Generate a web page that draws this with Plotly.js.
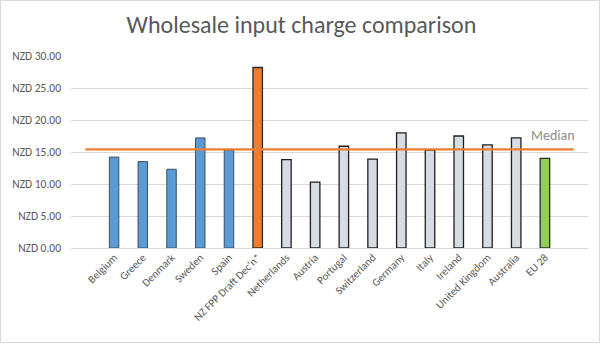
<!DOCTYPE html>
<html>
<head>
<meta charset="utf-8">
<script src="https://cdn.plot.ly/plotly-3.0.1.min.js"></script>
<style>
  html, body { margin: 0; padding: 0; background: #fff; }
  #chart { width: 603px; height: 345px; position: relative; }
  #frame { position: absolute; left: 0; top: 0; width: 598px; height: 341px; border: 1px solid #D9D9D9; pointer-events: none; }
</style>
</head>
<body>
<div id="chart"><div id="frame"></div></div>
<script>
// ---- data ----
const countries = ["Belgium", "Greece", "Denmark", "Sweden", "Spain", "NZ FPP Draft Dec'n*",
  "Netherlands", "Austria", "Portugal", "Switzerland", "Germany", "Italy", "Ireland",
  "United Kingdom", "Australia", "EU 28"];
const charges = [14.2, 13.5, 12.3, 17.2, 15.3, 28.2, 13.8, 10.3, 15.9, 13.9, 18.0, 15.3, 17.5, 16.1, 17.2, 14.0];
const groups = ["ref", "ref", "ref", "ref", "ref", "nz", "other", "other", "other", "other",
  "other", "other", "other", "other", "other", "eu"];
const medianValue = 15.4;
const medianLabel = "Median";
const yTicks = [0, 5, 10, 15, 20, 25, 30];
const yTickLabels = yTicks.map(v => "NZD " + v.toFixed(2));

// ---- styles ----
const fillByGroup = { ref: "#5B9BD5", nz: "#ED7D31", other: "#D6DCE4", eu: "#92D050" };
const lineByGroup = { ref: "#3B4E63", nz: "#2B2B2B", other: "#1F1F1F", eu: "#2B2B2B" };
const lwByGroup = { ref: 1, nz: 1.3, other: 1.3, eu: 1.3 };
const font = "Carlito, Calibri, Lato, 'Open Sans', sans-serif";
const nCat = countries.length;
const xr = [-1.5, nCat + 0.5];

const bars = {
  type: "bar",
  x: countries,
  y: charges,
  width: 0.33,
  marker: {
    color: groups.map(g => fillByGroup[g]),
    line: { color: groups.map(g => lineByGroup[g]), width: groups.map(g => lwByGroup[g]) }
  },
  hoverinfo: "x+y",
  showlegend: false
};

const medianLine = {
  type: "scatter",
  mode: "lines",
  x: [-1, nCat],
  y: [medianValue, medianValue],
  xaxis: "x2",
  line: { color: "#ED7D31", width: 2.3 },
  showlegend: false,
  hoverinfo: "y"
};

const layout = {
  width: 603,
  height: 345,
  margin: { l: 71, r: 15, t: 56, b: 97 },
  paper_bgcolor: "rgba(0,0,0,0)",
  plot_bgcolor: "rgba(0,0,0,0)",
  title: {
    text: "Wholesale input charge comparison",
    font: { family: font, size: 24, color: "#595959" },
    x: 0.5, xanchor: "center", y: 0.93, yanchor: "middle"
  },
  xaxis: {
    type: "category",
    range: xr,
    tickangle: -45,
    tickfont: { family: font, size: 11, color: "#595959" },
    showgrid: false,
    showline: false,
    zeroline: false,
    ticks: ""
  },
  xaxis2: {
    type: "linear",
    range: xr,
    overlaying: "x",
    visible: false
  },
  yaxis: {
    range: [0, 30],
    tickmode: "array",
    tickvals: yTicks,
    ticktext: yTickLabels,
    tickfont: { family: font, size: 11.5, color: "#595959" },
    gridcolor: "#D9D9D9",
    gridwidth: 1,
    zeroline: true,
    zerolinecolor: "#D9D9D9",
    zerolinewidth: 1,
    showline: false,
    ticks: "",
    ticklabelstandoff: 9
  },
  annotations: [{
    xref: "x2", yref: "y",
    x: nCat + 0.1, y: medianValue,
    text: medianLabel,
    showarrow: false,
    xanchor: "right", yanchor: "bottom",
    yshift: 3,
    font: { family: font, size: 14, color: "#8C8C8C" }
  }],
  bargap: 0.5
};

Plotly.newPlot("chart", [bars, medianLine], layout, { displayModeBar: false, staticPlot: true });
</script>
</body>
</html>
